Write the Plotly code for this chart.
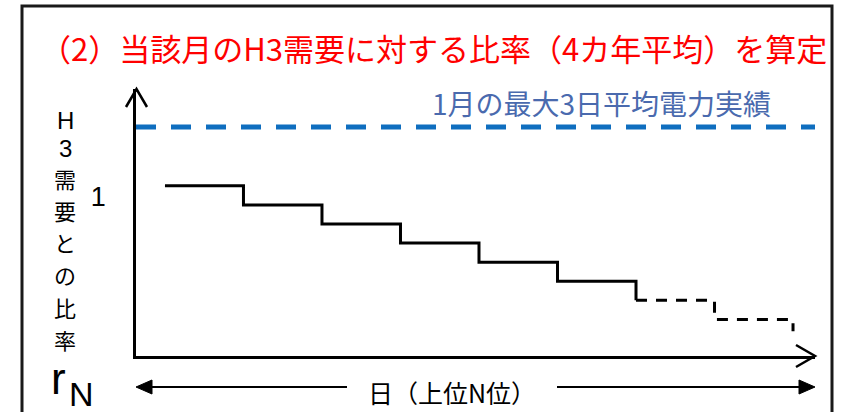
import plotly.graph_objects as go

# Ranking of days (top N) and the ratio of each day's demand to H3
ranks = [1, 2, 3, 4, 5, 6, 7, 8]
ratio = [1.07, 0.95, 0.83, 0.71, 0.59, 0.47, 0.35, 0.23]
ratio_tail = 0.155          # level the last dashed drop reaches
n_solid = 6                 # ranks drawn with a solid line
max3_ratio = 1.44           # 1月の最大3日平均電力実績 level
y_ticks = [1]
y_tick_text = ["1"]

title_text = "（2）当該月のH3需要に対する比率（4カ年平均）を算定"
max_label = "1月の最大3日平均電力実績"
y_title = "H3需要との比率"
x_title = "日（上位N位）"

W, H = 843, 412
L, R, T, B = 136, 815, 89, 356   # plot area in pixels

JP = "Noto Sans CJK JP"
LAT = "Liberation Sans"


def X(px):
    return (px - L) / (R - L)


def Y(py):
    return (B - py) / (B - T)


fig = go.Figure()

# step line: each rank occupies [rank-1, rank] on the x axis
xs = [r - 1 for r in ranks]
fig.add_trace(go.Scatter(
    x=xs[:n_solid + 1], y=ratio[:n_solid + 1], mode="lines",
    line=dict(shape="hv", color="black", width=3), hoverinfo="skip"))
fig.add_trace(go.Scatter(
    x=xs[n_solid:] + [ranks[-1]], y=ratio[n_solid:] + [ratio_tail], mode="lines",
    line=dict(shape="hv", color="black", width=3, dash="11px,9px"), hoverinfo="skip"))

x_lo, x_hi = -0.369, 8.28
fig.add_trace(go.Scatter(
    x=[x_lo, x_hi], y=[max3_ratio, max3_ratio], mode="lines",
    line=dict(color="#0F6EBF", width=5, dash="20px,15px"), hoverinfo="skip"))

fig.update_xaxes(range=[x_lo, x_hi], showgrid=False, zeroline=False,
                 showticklabels=False, ticks="", showline=True,
                 linecolor="black", linewidth=2.5)
fig.update_yaxes(range=[0, 1.679], showgrid=False, zeroline=False,
                 tickvals=y_ticks, ticktext=y_tick_text, ticks="",
                 ticklabelstandoff=22, tickfont=dict(family=LAT, size=27, color="black"),
                 showline=True, linecolor="black", linewidth=2.5)

shapes = []
# outer frame (open at the bottom edge of the canvas)
shapes.append(dict(type="path", xref="paper", yref="paper",
                   path=f"M {X(22)} {Y(430)} L {X(22)} {Y(6)} L {X(832)} {Y(6)} L {X(832)} {Y(430)}",
                   line=dict(color="#1a1a1a", width=3)))
# open arrowheads on the axes
shapes.append(dict(type="path", xref="paper", yref="paper",
                   path=f"M {X(126)} {Y(107)} L {X(136.5)} {Y(89)} L {X(147)} {Y(107)}",
                   line=dict(color="black", width=2.5)))
shapes.append(dict(type="path", xref="paper", yref="paper",
                   path=f"M {X(796)} {Y(345)} L {X(815)} {Y(356)} L {X(796)} {Y(367)}",
                   line=dict(color="black", width=2.5)))
# double-headed arrow under the x axis
yb = 387
shapes.append(dict(type="line", xref="paper", yref="paper",
                   x0=X(148), y0=Y(yb), x1=X(347), y1=Y(yb), line=dict(color="black", width=2)))
shapes.append(dict(type="line", xref="paper", yref="paper",
                   x0=X(557), y0=Y(yb), x1=X(803), y1=Y(yb), line=dict(color="black", width=2)))
shapes.append(dict(type="path", xref="paper", yref="paper",
                   path=f"M {X(136)} {Y(yb)} L {X(152)} {Y(yb - 7)} L {X(152)} {Y(yb + 7)} Z",
                   fillcolor="black", line=dict(color="black", width=1)))
shapes.append(dict(type="path", xref="paper", yref="paper",
                   path=f"M {X(815)} {Y(yb)} L {X(799)} {Y(yb - 7)} L {X(799)} {Y(yb + 7)} Z",
                   fillcolor="black", line=dict(color="black", width=1)))

ann = []
ann.append(dict(text=title_text, xref="paper", yref="paper", x=X(38), y=Y(47),
                xanchor="left", yanchor="middle", showarrow=False,
                font=dict(family=JP, size=31, color="#FF0000")))
ann.append(dict(text=max_label, xref="paper", yref="paper", x=X(601), y=Y(103),
                xanchor="center", yanchor="middle", showarrow=False,
                font=dict(family=JP, size=28, color="#4A6AAE")))
ann.append(dict(text=x_title, xref="paper", yref="paper", x=X(452), y=Y(392),
                xanchor="center", yanchor="middle", showarrow=False,
                font=dict(family=JP, size=25, color="black")))

# vertical y-axis title, stacked one character at a time
# half-width glyphs use a Latin face with a shorter line box
half_size, full_size = 24, 22
half_box, full_box = 26.8, 31.9
cy = 121
prev_box = None
for ch in y_title:
    half = ch.isascii()
    box = half_box if half else full_box
    if prev_box is not None:
        cy += (prev_box + box) / 2 + 0.3
    ann.append(dict(text=ch, xref="paper", yref="paper", x=X(65), y=Y(cy),
                    xanchor="center", yanchor="middle", showarrow=False,
                    font=dict(family=LAT if half else JP,
                              size=half_size if half else full_size, color="black")))
    prev_box = box

# r_N symbol
ann.append(dict(text="r", xref="paper", yref="paper", x=X(58), y=Y(378),
                xanchor="center", yanchor="middle", showarrow=False,
                font=dict(family=LAT, size=44, color="black")))
ann.append(dict(text="N", xref="paper", yref="paper", x=X(81), y=Y(394),
                xanchor="center", yanchor="middle", showarrow=False,
                font=dict(family=LAT, size=34, color="black")))

fig.update_layout(width=W, height=H, margin=dict(l=L, r=W - R, t=T, b=H - B),
                  plot_bgcolor="white", paper_bgcolor="white", showlegend=False,
                  shapes=shapes, annotations=ann)

fig.write_html("out.html")
